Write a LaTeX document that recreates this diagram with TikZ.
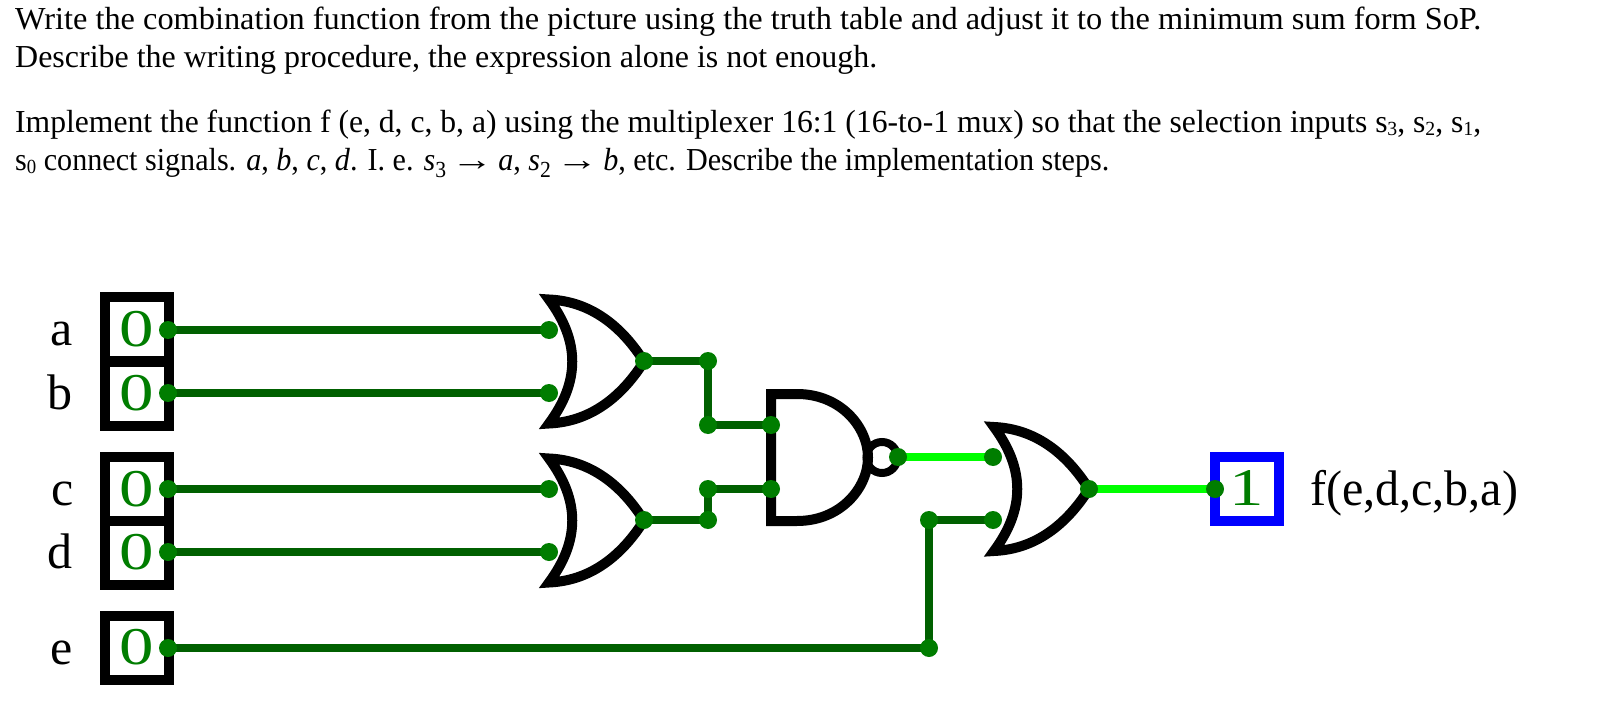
\documentclass[tikz,border=0pt]{standalone}
\usepackage{fontspec}
\setmainfont{Liberation Serif}
\usetikzlibrary{backgrounds}
\definecolor{wirelow}{RGB}{0,96,0}
\definecolor{dotgreen}{RGB}{0,125,0}
\definecolor{wirehigh}{RGB}{0,255,0}
\newcommand{\txtline}[2]{\resizebox{#1pt}{\height}{\fontsize{32}{36}\selectfont\strut #2}}
\newcommand{\sbs}[1]{\raisebox{-3pt}{\fontsize{20}{20}\selectfont #1}}
\newcommand{\sbm}[1]{\raisebox{-7pt}{\fontsize{23}{23}\selectfont #1}}
\newcommand{\bigdigit}[1]{\fontsize{53}{53}\selectfont\scalebox{1.3}[1]{#1}}
\newcommand{\longarrow}{\,\scalebox{1.4}[1]{→}\,}
\tikzset{
  x=1pt,y=-1pt,
  wire/.style={line width=8.5pt,color=wirelow},
  hotwire/.style={line width=8.5pt,color=wirehigh},
  pin/.style={circle,fill=dotgreen,inner sep=0pt,minimum size=18pt,outer sep=0pt},
  inbox/.style={draw=black,line width=10pt,minimum width=64pt,minimum height=64pt,inner sep=0pt,text=dotgreen},
  outbox/.style={inbox,draw=blue},
  siglabel/.style={anchor=base,inner sep=0pt,font=\fontsize{50}{50}\selectfont},
  txt/.style={anchor=base west,inner sep=0pt},
  gateline/.style={line width=10pt,draw=black,miter limit=12},
  orgate/.pic={
    \draw[gateline] (0,0) .. controls (-19,-30) and (-49,-60) .. (-95,-62)
      .. controls (-64,-20) and (-64,20) .. (-95,62)
      .. controls (-49,60) and (-19,30) .. (0,0);
  },
  nandgate/.pic={
    \draw[gateline] (26,-63.5) -- (0,-63.5) -- (0,63.5) -- (26,63.5)
      .. controls (70,63.5) and (97,30) .. (97,0)
      .. controls (97,-30) and (70,-63.5) .. (26,-63.5) -- cycle;
    \draw[line width=8pt,draw=black] (111,0) circle[radius=15.5];
  }
}
\begin{document}
\begin{tikzpicture}
\useasboundingbox (0,0) rectangle (1616,703);

% question text
\node[txt] (t1) at (15,30) {\txtline{1466}{Write the combination function from the picture using the truth table and adjust it to the minimum sum form SoP.}};
\node[txt] (t2) at (15,68) {\txtline{862}{Describe the writing procedure, the expression alone is not enough.}};
\node[txt] (t3) at (15,133) {\txtline{1466}{Implement the function f (e, d, c, b, a) using the multiplexer 16:1 (16-to-1 mux) so that the selection inputs s\sbs{3}, s\sbs{2}, s\sbs{1},}};
\node[txt] (t4) at (15,171) {\txtline{1094}{s\sbs{0} connect signals. \textit{a}, \textit{b}, \textit{c}, \textit{d}. I. e. \textit{s}\sbm{3}\longarrow\textit{a}, \textit{s}\sbm{2}\longarrow\textit{b}, etc. Describe the implementation steps.}};

% signal labels
\node[siglabel] (la) at (62,345) {a};
\node[siglabel] (lb) at (60,409) {b};
\node[siglabel] (lc) at (63,505) {c};
\node[siglabel] (ld) at (60,568) {d};
\node[siglabel] (le) at (62,664) {e};
\node[txt,font=\fontsize{50}{50}\selectfont] (lf) at (1310,505) {\resizebox{208pt}{\height}{f(e,d,c,b,a)}};

% input and output boxes
\node[inbox] (ia) at (136.5,329) {\bigdigit{0}};
\node[inbox] (ib) at (136.5,393.5) {\bigdigit{0}};
\node[inbox] (ic) at (136.5,489) {\bigdigit{0}};
\node[inbox] (id) at (136.5,552.5) {\bigdigit{0}};
\node[inbox] (ie) at (136.5,647.5) {\bigdigit{0}};
\node[outbox] (out) at (1247,488.5) {\bigdigit{1}};

% gates
\pic at (644,361.5) {orgate};
\pic at (644,520.5) {orgate};
\pic at (771,457.5) {nandgate};
\pic at (1089,489) {orgate};

% pins
\node[pin] (pa) at (168,330) {};
\node[pin] (pb) at (168,393) {};
\node[pin] (pc) at (168,489) {};
\node[pin] (pd) at (168,552) {};
\node[pin] (pe) at (168,648) {};
\node[pin] (g1a) at (549,330) {};
\node[pin] (g1b) at (549,393) {};
\node[pin] (g2a) at (549,489) {};
\node[pin] (g2b) at (549,552) {};
\node[pin] (g1o) at (644,361) {};
\node[pin] (g2o) at (644,520) {};
\node[pin] (j1) at (708,361) {};
\node[pin] (j2) at (708,425) {};
\node[pin] (j3) at (708,489) {};
\node[pin] (j4) at (708,520) {};
\node[pin] (n1) at (771,425) {};
\node[pin] (n2) at (771,489) {};
\node[pin] (no) at (898,457) {};
\node[pin] (g3a) at (993,457) {};
\node[pin] (g3b) at (993,520) {};
\node[pin] (g3o) at (1089,489) {};
\node[pin] (j5) at (929,520) {};
\node[pin] (j6) at (929,648) {};
\node[pin] (po) at (1215,489) {};

% wires
\begin{scope}[on background layer]
\fill[white] (0,0) rectangle (1616,703);
\draw[wire] (pa.center) -- (g1a.center);
\draw[wire] (pb.center) -- (g1b.center);
\draw[wire] (pc.center) -- (g2a.center);
\draw[wire] (pd.center) -- (g2b.center);
\draw[wire] (pe.center) -- (j6.center);
\draw[wire] (g1o.center) -- (j1.center);
\draw[wire] (j1.center) -- (j2.center);
\draw[wire] (j2.center) -- (n1.center);
\draw[wire] (g2o.center) -- (j4.center);
\draw[wire] (j4.center) -- (j3.center);
\draw[wire] (j3.center) -- (n2.center);
\draw[wire] (j6.center) -- (j5.center);
\draw[wire] (j5.center) -- (g3b.center);
\draw[hotwire] (no.center) -- (g3a.center);
\draw[hotwire] (g3o.center) -- (po.center);
\end{scope}
\end{tikzpicture}
\end{document}
